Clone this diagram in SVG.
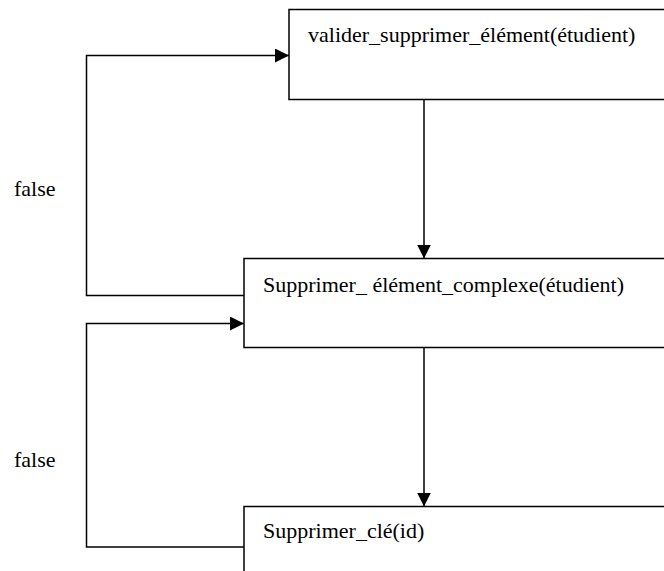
<svg xmlns="http://www.w3.org/2000/svg" width="664" height="571" viewBox="0 0 664 571">
  <style>
    .box { fill: #ffffff; stroke: #000000; stroke-width: 1.5; }
    .edge { fill: none; stroke: #000000; stroke-width: 1.5; }
    .label { font-family: "Liberation Serif", "Times New Roman", serif; font-size: 22px; fill: #000000; }
  </style>
  <defs>
    <marker id="arrow" viewBox="0 0 14 14" refX="14" refY="7" markerWidth="14" markerHeight="14" markerUnits="userSpaceOnUse" orient="auto">
      <path d="M0,0 L14,7 L0,14 Z" fill="#000000"/>
    </marker>
  </defs>

  <rect width="664" height="571" fill="#ffffff"/>

  <!-- process boxes (open to the right edge) -->
  <g id="node-valider">
    <rect class="box" x="289" y="9.5" width="390" height="90"/>
    <text class="label" x="308" y="42">valider_supprimer_élément(étudient)</text>
  </g>
  <g id="node-supprimer-complexe">
    <rect class="box" x="244" y="258.5" width="435" height="89"/>
    <text class="label" x="263" y="292">Supprimer_ élément_complexe(étudient)</text>
  </g>
  <g id="node-supprimer-cle">
    <rect class="box" x="244" y="506.5" width="435" height="80"/>
    <text class="label" x="263" y="538">Supprimer_clé(id)</text>
  </g>

  <!-- connectors -->
  <g id="connectors">
    <line class="edge" x1="424" y1="99.5" x2="424" y2="258.5" marker-end="url(#arrow)"/>
    <line class="edge" x1="424" y1="347.5" x2="424" y2="506.5" marker-end="url(#arrow)"/>
    <polyline class="edge" points="244,295.5 86.5,295.5 86.5,55.5 289,55.5" marker-end="url(#arrow)"/>
    <polyline class="edge" points="244,547 86.5,547 86.5,323.5 244,323.5" marker-end="url(#arrow)"/>
    <text class="label" x="14" y="196">false</text>
    <text class="label" x="14" y="467">false</text>
  </g>
</svg>
